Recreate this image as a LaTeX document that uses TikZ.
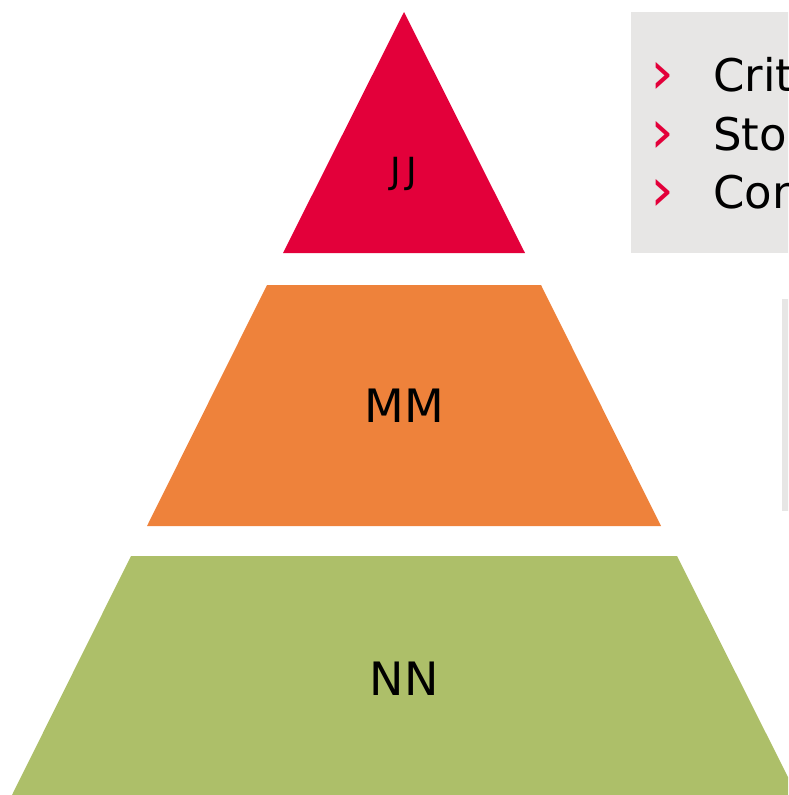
\documentclass[tikz,border=0pt]{standalone}
\usepackage{fontspec}
\setmainfont{DejaVu Sans}
\definecolor{tierred}{HTML}{E3003A}
\definecolor{tierorange}{HTML}{EE823B}
\definecolor{tiergreen}{HTML}{ADBF69}
\definecolor{panelgrey}{HTML}{E7E6E5}
\tikzstyle{level}=[draw=none]
\tikzstyle{panel}=[fill=panelgrey]
\tikzstyle{tier label}=[inner sep=0pt, font=\fontsize{46}{50}\selectfont]
\tikzstyle{bullet}=[anchor=base west, inner sep=0pt, text=tierred, font=\fontsize{60}{62}\selectfont]
\tikzstyle{item}=[anchor=base west, inner sep=0pt, font=\fontsize{45}{50}\selectfont]

\begin{document}
\begin{tikzpicture}[x=1pt, y=-1pt]
      \useasboundingbox (0, 0) rectangle (788, 795);
      \clip (0, 0) rectangle (788, 795);
      % pyramid
      \fill[level, tierred] (404, 12) -- (525, 253) -- (283, 253) -- cycle;
      \fill[level, tierorange] (267, 285) -- (541, 285) -- (661, 526) -- (147, 526) -- cycle;
      \fill[level, tiergreen] (131, 556) -- (677, 556) -- (797, 795) -- (12, 795) -- cycle;
      \node[tier label, font=\fontsize{36}{40}\selectfont] (jj) at (404, 174) {J\kern6pt J};
      \node[tier label] (mm) at (404, 406) {MM};
      \node[tier label] (nn) at (404, 679) {NN};
      % side panels
      \fill[panel] (631, 12) rectangle (800, 253);
      \fill[panel] (782, 299) rectangle (800, 511);
      \foreach \word/\y/\name in {Crit/91/crit, Sto/150/sto, Con/208/con} {
        \node[bullet] (mark-\name) at (650, \y+2) {›};
        \node[item] (\name) at (713, \y) {\word};
      }
    \end{tikzpicture}
\end{document}
